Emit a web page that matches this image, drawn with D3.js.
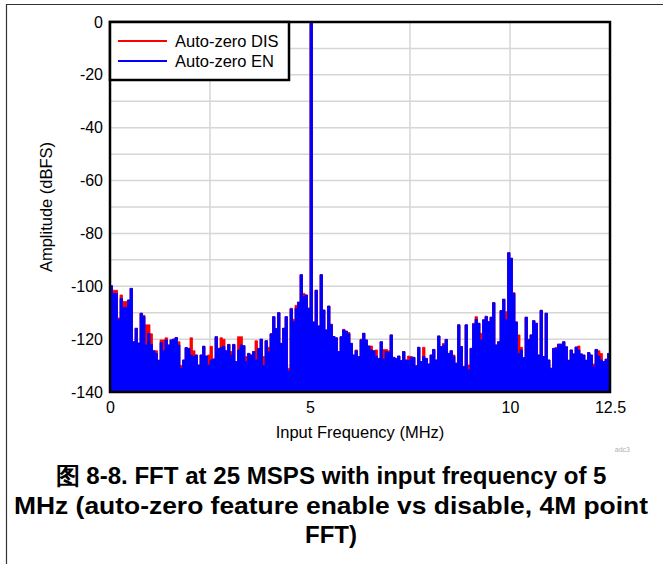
<!DOCTYPE html>
<html>
<head>
<meta charset="utf-8">
<script src="https://cdn.jsdelivr.net/npm/d3@7"></script>
<style>
  html, body { margin: 0; padding: 0; background: #fff; }
  svg text { font-family: "Liberation Sans", Arial, Helvetica, sans-serif; }
</style>
</head>
<body>
<svg id="chart" width="663" height="564"></svg>
<script>
// ---- Data ----
const binWidthMHz = 0.0625;          // spectrum envelope bin spacing
const seriesNames = ["Auto-zero DIS", "Auto-zero EN"];
const seriesColors = ["#ff0000", "#0000ff"];

// Auto-zero DIS (red), dBFS per bin from 0 to 12.5 MHz
const ampDIS = [
 -99.8,-101.5,-101.5,-112,-103.3,-105.8,-105.8,-105.2,-100.8,-121,
 -115.9,-121.5,-110.2,-111,-114.6,-114.6,-118,-124.4,-124.4,-128,
 -120.3,-120.3,-119.5,-122.2,-120.3,-120,-119.4,-121,-130,-127.9,
 -123.2,-123.5,-119.5,-124.4,-126,-129.8,-126,-122.7,-126.4,-126,
 -122.7,-127.5,-119.1,-123.5,-119.5,-120,-124.4,-122,-124.7,-122,
 -128.5,-119.1,-119.1,-122.5,-126.6,-125.4,-126,-124.7,-120.6,-123.5,
 -120,-126.6,-120.6,-123.1,-118,-111.5,-116,-110,-121.6,-115.9,
 -111.5,-131,-108.3,-112.5,-107.2,-106,-95.6,-102.7,-103.3,-108.3,
 -0.5,-113.5,-101.5,-115,-95.6,-109,-116.5,-107.5,-114.3,-119,
 -119.5,-124.7,-119.1,-116.3,-117,-117.5,-121.6,-126,-124.1,-126.6,
 -120,-117.8,-120.3,-122.6,-122.6,-124.4,-124.1,-127.3,-121,-123.9,
 -123.9,-124.4,-118.4,-126.9,-127.3,-126.4,-128.1,-124.7,-127.9,-126.4,
 -126.6,-126.9,-130.1,-123.1,-128.5,-123.1,-127.3,-129.4,-126,-123.9,
 -127.9,-118.8,-122.8,-121.6,-120.1,-125.4,-124.4,-126,-129.1,-114.6,
 -122.8,-130.4,-114.6,-129.8,-123.5,-114,-111.5,-114,-117.8,-112.7,
 -111.3,-113.4,-111.7,-106.2,-122.2,-121,-109.2,-104.9,-109.6,-87.3,
 -89.4,-102.4,-113.5,-118.4,-123.1,-127,-111.7,-120.1,-118.4,-113,
 -114,-126,-109,-126.6,-110.2,-127.9,-131,-123.5,-123.1,-121.9,
 -121.9,-121,-122.9,-128,-124.1,-125.6,-123,-122.6,-125.6,-126,
 -128,-125.1,-126,-129.4,-123.9,-124.4,-125.4,-128.5,-127.6,-125.4,
 -125.4
];

// Auto-zero EN (blue), dBFS per bin from 0 to 12.5 MHz
const ampEN = [
 -99.8,-102.7,-102.7,-112.5,-104.6,-108,-108,-105.2,-100.8,-121,
 -115.9,-121.5,-110.2,-111.5,-122.2,-117.8,-122,-124.4,-125.4,-128,
 -121.3,-124.4,-120.3,-122.2,-120.3,-120,-119.4,-122.2,-131,-127.9,
 -123.2,-123.5,-126,-126.6,-126,-129.8,-126,-122.7,-126.4,-129.8,
 -127.9,-127.5,-119.1,-123.5,-123.2,-122.7,-124.4,-122,-126,-122,
 -128.5,-124.1,-122.2,-122.5,-128.5,-125.4,-126,-124.7,-127.9,-123.5,
 -120,-130,-120.6,-124.7,-118,-111.5,-116,-110,-121.6,-115.9,
 -111.5,-132,-108.6,-113.4,-108.3,-106,-95.6,-103.9,-103.3,-108.3,
 -0.5,-113.5,-101.5,-115,-95.6,-109,-116.5,-107.5,-114.6,-119,
 -119.5,-124.7,-119.1,-116.5,-117,-118,-121.6,-126,-124.4,-126.6,
 -120.3,-117.8,-120.3,-122.6,-124.1,-124.4,-126.4,-127.3,-121,-127.6,
 -124.7,-125.1,-118.4,-126.9,-127.3,-126.4,-128.1,-124.7,-127.9,-128.1,
 -126.9,-126.9,-130.1,-123.1,-128.5,-126.6,-127.3,-129.4,-126,-123.9,
 -127.9,-118.8,-122.8,-122.2,-120.1,-125.4,-124.4,-126.6,-129.1,-114.6,
 -122.8,-130.4,-114.6,-131.6,-123.5,-114.3,-112.5,-114,-120.3,-112.7,
 -111.5,-113.4,-111.7,-106.2,-122.2,-121,-109.2,-104.9,-112.7,-87.3,
 -89.4,-102.7,-113.5,-125.4,-124.1,-127,-111.7,-120.1,-118.4,-113,
 -114,-126,-109.2,-126.6,-110.2,-127.9,-131,-123.5,-123.5,-121.9,
 -121.9,-121,-122.9,-128,-124.1,-125.6,-123,-124.1,-125.6,-126,
 -128,-125.1,-126,-130.4,-123.9,-126.4,-127.9,-128.5,-127.6,-125.4,
 -125.4
];

const xTicks = [0, 5, 10, 12.5];
const xGrid = [2.5, 5, 7.5, 10];
const yTicks = [0, -20, -40, -60, -80, -100, -120, -140];
const yGrid = [-10, -20, -30, -40, -50, -60, -70, -80, -90, -100, -110, -120, -130];
const xTitle = "Input Frequency (MHz)";
const yTitle = "Amplitude (dBFS)";
const captionLines = [
  "图 8-8. FFT at 25 MSPS with input frequency of 5",
  "MHz (auto-zero feature enable vs disable, 4M point",
  "FFT)"
];
const captionWidths = [551, 634, null];
const watermark = "adc3";

// ---- Drawing ----
const svg = d3.select("#chart");
const L = 110, R = 610, T = 22, B = 392;
const x = d3.scaleLinear().domain([0, 12.5]).range([L, R]);
const y = d3.scaleLinear().domain([-140, 0]).range([B, T]);

// outer figure border
svg.append("path").attr("d", `M6.5,564 V4.5 H663`).attr("fill", "none")
   .attr("stroke", "#333").attr("stroke-width", 1.2);

// gridlines
const grid = svg.append("g").attr("stroke", "#d6d6d6").attr("stroke-width", 1.5);
yGrid.forEach(v => grid.append("line").attr("x1", L).attr("x2", R).attr("y1", y(v)).attr("y2", y(v)));
xGrid.forEach(v => grid.append("line").attr("y1", T).attr("y2", B).attr("x1", x(v)).attr("x2", x(v)));

svg.append("clipPath").attr("id", "clip").append("rect")
   .attr("x", L).attr("y", T).attr("width", R - L).attr("height", B - T);

const area = d3.area()
  .x((d, i) => x(i * binWidthMHz))
  .y0(y(-140))
  .y1(d => y(d))
  .curve(d3.curveStepAfter);

const g = svg.append("g").attr("clip-path", "url(#clip)");
[ampDIS, ampEN].forEach((arr, k) => {
  g.append("path").datum(arr).attr("d", area)
   .attr("fill", seriesColors[k])
   .attr("stroke", seriesColors[k]).attr("stroke-width", 0.8);
});

// axes
const yAxis = d3.axisLeft(y).tickValues(yTicks).tickSize(0).tickPadding(7).tickFormat(d => String(d));
const gy = svg.append("g").attr("transform", `translate(${L},0)`).call(yAxis);
gy.select(".domain").remove();
gy.selectAll("text").attr("font-size", 16).attr("fill", "#000").attr("font-family", "Liberation Sans, Arial, sans-serif");

const xAxis = d3.axisBottom(x).tickValues(xTicks).tickSize(0).tickPadding(10).tickFormat(d => String(d));
const gx = svg.append("g").attr("transform", `translate(0,${B})`).call(xAxis);
gx.select(".domain").remove();
gx.selectAll("text").attr("font-size", 16).attr("fill", "#000").attr("font-family", "Liberation Sans, Arial, sans-serif");

// plot frame
svg.append("rect").attr("x", L).attr("y", T).attr("width", R - L).attr("height", B - T)
   .attr("fill", "none").attr("stroke", "#000").attr("stroke-width", 2.5);

// axis titles
svg.append("text").attr("x", (L + R) / 2).attr("y", 438).attr("text-anchor", "middle")
   .attr("font-size", 16.5).text(xTitle);
svg.append("text").attr("transform", `translate(52,${(T + B) / 2}) rotate(-90)`)
   .attr("text-anchor", "middle").attr("font-size", 16.5).text(yTitle);

// legend
const lg = svg.append("g");
lg.append("rect").attr("x", L).attr("y", T).attr("width", 179).attr("height", 58)
  .attr("fill", "#fff").attr("stroke", "#000").attr("stroke-width", 2.5);
seriesNames.forEach((n, k) => {
  const yy = 41 + k * 20;
  lg.append("line").attr("x1", 118).attr("x2", 167).attr("y1", yy).attr("y2", yy)
    .attr("stroke", seriesColors[k]).attr("stroke-width", 2);
  lg.append("text").attr("x", 175).attr("y", yy + 6).attr("font-size", 16.5).text(n);
});

// watermark
svg.append("text").attr("x", 630).attr("y", 452).attr("text-anchor", "end")
   .attr("font-size", 7).attr("fill", "#b0b0b0").text(watermark);

// caption
captionLines.forEach((t, k) => {
  const el = svg.append("text").attr("x", 331).attr("y", 484 + k * 29.5).attr("text-anchor", "middle")
     .attr("font-size", 24).attr("font-weight", "bold").attr("fill", "#000")
     .attr("font-family", "Liberation Sans, Arial, 'Noto Sans CJK SC', sans-serif").text(t);
  if (captionWidths[k]) el.attr("textLength", captionWidths[k]).attr("lengthAdjust", "spacingAndGlyphs");
});
</script>
</body>
</html>
